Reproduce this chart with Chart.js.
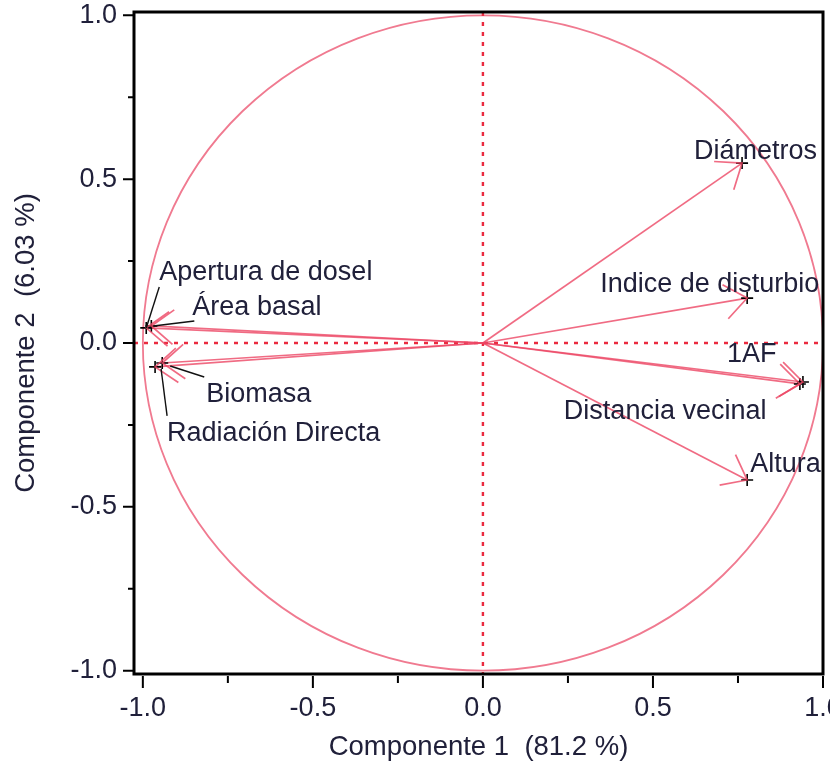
<!DOCTYPE html>
<html>
<head>
<meta charset="utf-8">
<script src="https://cdn.jsdelivr.net/npm/chart.js@4.4.1/dist/chart.umd.min.js"></script>
<style>
  html, body { margin: 0; padding: 0; background: #fff; overflow: hidden; }
  #wrap { width: 839px; height: 765px; overflow: hidden; }
</style>
</head>
<body>
<div id="wrap"><canvas id="myChart" width="860" height="765"></canvas></div>
<script>
// cargas de las variables sobre las componentes 1 y 2
var variables = ['Diámetros', 'Indice de disturbio', '1AF', 'Distancia vecinal', 'Altura',
                 'Apertura de dosel', 'Área basal', 'Biomasa', 'Radiación Directa'];
var comp1 = [0.762, 0.777, 0.941, 0.932, 0.777, -0.990, -0.975, -0.943, -0.964];
var comp2 = [0.549, 0.137, -0.119, -0.125, -0.418, 0.046, 0.052, -0.061, -0.073];
var tickLabels = [-1.0, -0.5, 0.0, 0.5, 1.0];
var xTitle = 'Componente 1  (81.2 %)';
var yTitle = 'Componente 2  (6.03 %)';

// donde va cada etiqueta (offset en px desde la punta de la flecha)
var labelOffset = {
  'Diámetros': [-48, -14],
  'Indice de disturbio': [-147, -16],
  '1AF': [-76, -30],
  'Distancia vecinal': [-236, 25],
  'Altura': [3, -18],
  'Apertura de dosel': [13, -58],
  'Área basal': [41, -21],
  'Biomasa': [44, 29],
  'Radiación Directa': [12, 64]
};
// lineas negras que unen etiqueta y punto
var leaders = {
  'Apertura de dosel': [0, 0, 13, -41],
  'Área basal': [2, 0, 43, -5],
  'Biomasa': [8, 3, 42, 14],
  'Radiación Directa': [6, 2, 12, 49]
};

var FONT = '"Liberation Sans", Arial, sans-serif';
var FSIZE = 27;
var TEXT = '#20203a';
var ARROW = 'rgba(236, 70, 100, 0.8)';

var datasets = [];
// cruces negras en las puntas (primero = encima)
var markers = [];
for (var i = 0; i < variables.length; i++) markers.push({x: comp1[i], y: comp2[i]});
datasets.push({
  data: markers, pointStyle: 'cross', pointRadius: 6, pointBorderColor: '#000',
  pointBorderWidth: 1.6, showLine: false
});
for (var i = 0; i < variables.length; i++) {
  datasets.push({
    label: variables[i],
    data: [{x: 0, y: 0}, {x: comp1[i], y: comp2[i]}],
    showLine: true, borderColor: ARROW, borderWidth: 1.7, pointRadius: 0, arrow: true
  });
}

function isMajor(v) {
  for (var k = 0; k < tickLabels.length; k++) if (Math.abs(tickLabels[k] - v) < 1e-6) return true;
  return false;
}

var pcaPlugin = {
  id: 'pca',
  beforeDatasetsDraw: function(chart) {
    var ctx = chart.ctx, xs = chart.scales.x, ys = chart.scales.y, a = chart.chartArea;
    var cx = xs.getPixelForValue(0), cy = ys.getPixelForValue(0);
    var rx = xs.getPixelForValue(1) - cx, ry = cy - ys.getPixelForValue(1);
    ctx.save();
    ctx.beginPath(); ctx.rect(a.left, a.top, a.right - a.left, a.bottom - a.top); ctx.clip();
    ctx.strokeStyle = '#f07a90'; ctx.lineWidth = 1.8;
    ctx.beginPath(); ctx.ellipse(cx, cy, rx, ry, 0, 0, 2 * Math.PI); ctx.stroke();
    ctx.setLineDash([4, 6]); ctx.strokeStyle = '#ea2a3f'; ctx.lineWidth = 2.4;
    ctx.beginPath();
    ctx.moveTo(cx, a.top); ctx.lineTo(cx, a.bottom);
    ctx.moveTo(a.left, cy); ctx.lineTo(a.right, cy);
    ctx.stroke();
    ctx.restore();
  },
  afterDatasetsDraw: function(chart) {
    var ctx = chart.ctx;
    ctx.save();
    // puntas de flecha
    chart.data.datasets.forEach(function(ds, di) {
      if (!ds.arrow) return;
      var pts = chart.getDatasetMeta(di).data;
      var p0 = pts[0], p1 = pts[1];
      var ang = Math.atan2(p0.y - p1.y, p0.x - p1.x);
      var len = 28, spread = 38 * Math.PI / 180;
      ctx.strokeStyle = ARROW; ctx.lineWidth = 1.7;
      ctx.beginPath();
      ctx.moveTo(p1.x + len * Math.cos(ang + spread), p1.y + len * Math.sin(ang + spread));
      ctx.lineTo(p1.x, p1.y);
      ctx.lineTo(p1.x + len * Math.cos(ang - spread), p1.y + len * Math.sin(ang - spread));
      ctx.stroke();
    });
    // etiquetas y lineas guia
    var meta = chart.getDatasetMeta(0).data;
    ctx.font = FSIZE + 'px ' + FONT;
    ctx.fillStyle = TEXT;
    ctx.textBaseline = 'alphabetic';
    ctx.textAlign = 'left';
    for (var i = 0; i < variables.length; i++) {
      var p = meta[i], name = variables[i];
      var off = labelOffset[name];
      ctx.fillText(name, p.x + off[0], p.y + off[1] + 10);
      var l = leaders[name];
      if (l) {
        ctx.strokeStyle = '#111'; ctx.lineWidth = 1.4;
        ctx.beginPath();
        ctx.moveTo(p.x + l[0], p.y + l[1]); ctx.lineTo(p.x + l[2], p.y + l[3]);
        ctx.stroke();
      }
    }
    ctx.restore();
  },
  afterDraw: function(chart) {
    var ctx = chart.ctx, xs = chart.scales.x, ys = chart.scales.y, a = chart.chartArea;
    ctx.save();
    ctx.strokeStyle = '#000';
    ctx.lineWidth = 2;
    ctx.beginPath();
    xs.ticks.forEach(function(t) {
      var px = xs.getPixelForValue(t.value);
      ctx.moveTo(px, a.bottom + 2);
      ctx.lineTo(px, a.bottom + (isMajor(t.value) ? 14 : 9));
    });
    ys.ticks.forEach(function(t) {
      var py = ys.getPixelForValue(t.value);
      ctx.moveTo(a.left, py);
      ctx.lineTo(a.left - (isMajor(t.value) ? 11 : 6), py);
    });
    ctx.stroke();
    ctx.lineWidth = 3;
    ctx.strokeRect(a.left, a.top, a.right - a.left, a.bottom - a.top);
    // el "1.0" del eje x queda cortado en el original
    ctx.fillStyle = '#fff';
    ctx.fillRect(830, a.bottom + 18, 40, 45);
    ctx.restore();
  }
};

var ctx = document.getElementById('myChart').getContext('2d');
var myChart = new Chart(ctx, {
  type: 'scatter',
  data: { datasets: datasets },
  options: {
    responsive: false,
    animation: false,
    events: [],
    devicePixelRatio: 1,
    layout: { padding: { left: 0, top: 12, right: 37, bottom: 0 } },
    plugins: { legend: { display: false }, tooltip: { enabled: false } },
    scales: {
      x: {
        type: 'linear', position: 'bottom', min: -1.026, max: 1.0,
        grid: { display: false, drawTicks: false },
        border: { display: false },
        ticks: {
          stepSize: 0.25, includeBounds: false, autoSkip: false, maxRotation: 0, padding: 18,
          color: TEXT, font: { family: FONT, size: FSIZE },
          callback: function(v) { return isMajor(v) ? v.toFixed(1) : ''; }
        },
        title: { display: true, text: xTitle, color: TEXT, font: { family: FONT, size: 27.5 },
                 padding: { top: 0, bottom: 1 } },
        afterFit: function(s) {
          s.height = 91; s.paddingLeft = 0; s.paddingRight = 0; s.paddingTop = 0; s.paddingBottom = 0;
        }
      },
      y: {
        type: 'linear', position: 'left', min: -1.01, max: 1.01,
        grid: { display: false, drawTicks: false },
        border: { display: false },
        ticks: {
          stepSize: 0.25, includeBounds: false, autoSkip: false, padding: 17,
          color: TEXT, font: { family: FONT, size: FSIZE },
          callback: function(v) { return isMajor(v) ? v.toFixed(1) : ''; }
        },
        title: { display: true, text: yTitle, color: TEXT, font: { family: FONT, size: 27.5 },
                 padding: { top: 10, bottom: 0 } },
        afterFit: function(s) {
          s.width = 134; s.paddingLeft = 0; s.paddingRight = 0; s.paddingTop = 0; s.paddingBottom = 0;
        }
      }
    }
  },
  plugins: [pcaPlugin]
});
</script>
</body>
</html>
